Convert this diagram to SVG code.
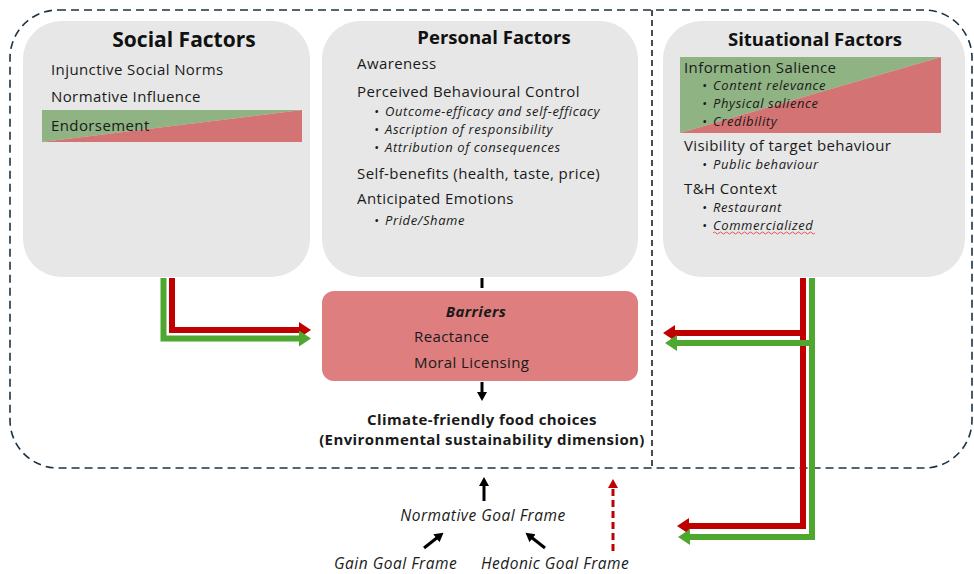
<svg xmlns="http://www.w3.org/2000/svg" width="974" height="574" viewBox="0 0 974 574">
  <style>
    text { font-family: "Open Sans", "Liberation Sans", sans-serif; fill: #1a1a1a; }
    .title { font-size: 18.5px; font-weight: 700; text-anchor: middle; fill: #111; }
    .item { font-size: 15px; letter-spacing: 0.4px; }
    .sub { font-size: 13px; font-style: italic; letter-spacing: 0.6px; }
    .frame-label { font-size: 15.5px; font-style: italic; letter-spacing: 0.5px; }
    .bold { font-weight: 700; }
    .box { fill: #e7e7e7; }
    .frame { fill: none; stroke: #1c3344; stroke-width: 1.6; stroke-dasharray: 8 5; }
    .split { fill: none; stroke: #111; stroke-width: 1.5; stroke-dasharray: 6 4; }
    .red { fill: none; stroke: #c00000; stroke-width: 6; }
    .green { fill: none; stroke: #4ea72e; stroke-width: 6; }
    .blk { fill: none; stroke: #000; stroke-width: 3; }
    .dash { fill: none; stroke: #c00000; stroke-width: 3; stroke-dasharray: 7 4; }
  </style>
  <defs>
    <marker id="headRed" markerUnits="userSpaceOnUse" markerWidth="14" markerHeight="18" refX="2" refY="8" orient="auto">
      <path d="M0,0 L12,8 L0,16 z" fill="#c00000"/>
    </marker>
    <marker id="headGreen" markerUnits="userSpaceOnUse" markerWidth="14" markerHeight="18" refX="2" refY="8" orient="auto">
      <path d="M0,0 L12,8 L0,16 z" fill="#4ea72e"/>
    </marker>
    <marker id="headBlack" markerUnits="userSpaceOnUse" markerWidth="12" markerHeight="12" refX="2" refY="5" orient="auto">
      <path d="M0,0 L9,5 L0,10 z" fill="#000"/>
    </marker>
    <marker id="headRedSmall" markerUnits="userSpaceOnUse" markerWidth="12" markerHeight="12" refX="2" refY="5" orient="auto">
      <path d="M0,0 L9,5 L0,10 z" fill="#c00000"/>
    </marker>
  </defs>

  <!-- outer boundary and divider -->
  <rect class="frame" x="10" y="10" width="962" height="458" rx="48" ry="48"/>
  <line class="split" x1="652" y1="10" x2="652" y2="468"/>

  <!-- Social Factors -->
  <g id="social">
    <rect class="box" x="23" y="21" width="287" height="256" rx="38"/>
    <polygon points="42,110 302,110 42,142" fill="#8fb383"/>
    <polygon points="302,110 302,142 42,142" fill="#d47373"/>
    <text class="title" x="184" y="47" style="font-size:21px">Social Factors</text>
    <text class="item" x="51" y="75">Injunctive Social Norms</text>
    <text class="item" x="51" y="102">Normative Influence</text>
    <text class="item" x="51" y="131">Endorsement</text>
  </g>

  <!-- Personal Factors -->
  <g id="personal">
    <rect class="box" x="322" y="21" width="316" height="256" rx="38"/>
    <text class="title" x="494" y="44">Personal Factors</text>
    <text class="item" x="357" y="69">Awareness</text>
    <text class="item" x="357" y="97">Perceived Behavioural Control</text>
    <text class="sub" y="116"><tspan x="374">•</tspan><tspan x="385">Outcome-efficacy and self-efficacy</tspan></text>
    <text class="sub" y="134"><tspan x="374">•</tspan><tspan x="385">Ascription of responsibility</tspan></text>
    <text class="sub" y="152"><tspan x="374">•</tspan><tspan x="385">Attribution of consequences</tspan></text>
    <text class="item" x="357" y="179">Self-benefits (health, taste, price)</text>
    <text class="item" x="357" y="204">Anticipated Emotions</text>
    <text class="sub" y="225"><tspan x="374">•</tspan><tspan x="385">Pride/Shame</tspan></text>
  </g>

  <!-- Situational Factors -->
  <g id="situational">
    <rect class="box" x="663" y="21" width="302" height="256" rx="38"/>
    <polygon points="680,57 941,57 680,133" fill="#8fb383"/>
    <polygon points="941,57 941,133 680,133" fill="#d47373"/>
    <text class="title" x="815" y="46">Situational Factors</text>
    <text class="item" x="684" y="73">Information Salience</text>
    <text class="sub" y="90"><tspan x="702">•</tspan><tspan x="713">Content relevance</tspan></text>
    <text class="sub" y="108"><tspan x="702">•</tspan><tspan x="713">Physical salience</tspan></text>
    <text class="sub" y="126"><tspan x="702">•</tspan><tspan x="713">Credibility</tspan></text>
    <text class="item" x="684" y="151">Visibility of target behaviour</text>
    <text class="sub" y="169"><tspan x="702">•</tspan><tspan x="713">Public behaviour</tspan></text>
    <text class="item" x="684" y="194">T&amp;H Context</text>
    <text class="sub" y="212"><tspan x="702">•</tspan><tspan x="713">Restaurant</tspan></text>
    <text class="sub" y="230"><tspan x="702">•</tspan><tspan x="713">Commercialized</tspan></text>
    <path d="M713,233 q1.5,-2 3,0 t3,0 t3,0 t3,0 t3,0 t3,0 t3,0 t3,0 t3,0 t3,0 t3,0 t3,0 t3,0 t3,0 t3,0 t3,0 t3,0 t3,0 t3,0 t3,0 t3,0 t3,0 t3,0 t3,0 t3,0 t3,0 t3,0 t3,0 t3,0 t3,0 t3,0 t3,0 t3,0 t3,0" fill="none" stroke="#e03030" stroke-width="0.8"/>
  </g>

  <!-- Barriers -->
  <g id="barriers">
    <rect x="322" y="291" width="316" height="90" rx="12" fill="#df7e7e"/>
    <text class="item bold" x="476" y="317" text-anchor="middle" font-style="italic">Barriers</text>
    <text class="item" x="414" y="342">Reactance</text>
    <text class="item" x="414" y="368">Moral Licensing</text>
  </g>

  <!-- Outcome -->
  <g id="outcome">
    <text class="item bold" x="482" y="425" text-anchor="middle">Climate-friendly food choices</text>
    <text class="item bold" x="482" y="445" text-anchor="middle">(Environmental sustainability dimension)</text>
  </g>

  <!-- Goal frames -->
  <g id="normative-frame">
    <text class="frame-label" x="483" y="521" text-anchor="middle">Normative Goal Frame</text>
  </g>
  <g id="gain-frame">
    <text class="frame-label" x="334" y="569">Gain Goal Frame</text>
  </g>
  <g id="hedonic-frame">
    <text class="frame-label" x="481" y="569">Hedonic Goal Frame</text>
  </g>

  <!-- connectors -->
  <g id="connectors">
    <line class="blk" x1="482" y1="278" x2="482" y2="288"/>
    <line class="blk" x1="482" y1="382" x2="482" y2="394" marker-end="url(#headBlack)"/>

    <path class="red" d="M172,278 V330 H301" marker-end="url(#headRed)"/>
    <path class="green" d="M163.5,278 V338.5 H301" marker-end="url(#headGreen)"/>

    <path class="red" d="M803,278 V526 H687" marker-end="url(#headRed)"/>
    <path class="green" d="M812,278 V537 H688" marker-end="url(#headGreen)"/>
    <path class="red" d="M803,333 H673" marker-end="url(#headRed)"/>
    <path class="green" d="M812,343 H675" marker-end="url(#headGreen)"/>

    <line class="blk" x1="484" y1="501" x2="484" y2="484" marker-end="url(#headBlack)"/>
    <line class="blk" x1="424" y1="548" x2="438" y2="537" marker-end="url(#headBlack)"/>
    <line class="blk" x1="545" y1="548" x2="531" y2="537" marker-end="url(#headBlack)"/>
    <line class="dash" x1="613" y1="551" x2="613" y2="486" marker-end="url(#headRedSmall)"/>
  </g>
</svg>
